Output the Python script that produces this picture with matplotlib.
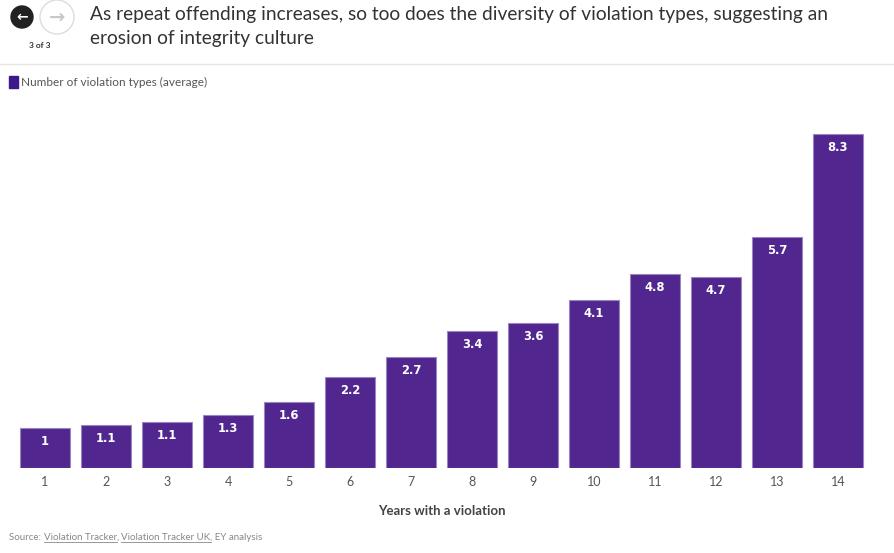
import numpy as np
import matplotlib
matplotlib.use("Agg")
import matplotlib.pyplot as plt
from matplotlib.patches import Ellipse, Rectangle

plt.rcParams["font.family"] = ["Lato", "DejaVu Sans"]

years = list(range(1, 15))
avg_types = [1.0, 1.07, 1.14, 1.32, 1.64, 2.26, 2.76, 3.40, 3.60, 4.17, 4.82, 4.75, 5.74, 8.3]
bar_labels = ["1", "1.1", "1.1", "1.3", "1.6", "2.2", "2.7", "3.4", "3.6", "4.1", "4.8", "4.7", "5.7", "8.3"]

title = ("As repeat offending increases, so too does the diversity of violation types, suggesting an\n"
         "erosion of integrity culture")
series_name = "Number of violation types (average)"
x_title = "Years with a violation"

W, H = 894, 553
fig = plt.figure(figsize=(W / 100, H / 100), dpi=100)


def fx(px):
    return px / W


def fy(py):
    return 1 - py / H


# axes in pixel coordinates: left 14.5, right 868.5, baseline 468, top 106
ax = fig.add_axes([fx(14.5), fy(468), 854 / W, 362 / H])
ax.bar(years, avg_types, width=0.82, color="#51268f", edgecolor="#9b86c4", linewidth=0.8)
for x, v, lab in zip(years, avg_types, bar_labels):
    ax.annotate(lab, (x, v), xytext=(0, -5), textcoords="offset points",
                ha="center", va="top", color="white", fontsize=8.3, fontweight="bold",
                family=["DejaVu Sans"])
ax.set_xlim(0.5, 14.5)
ax.set_ylim(0, 362 / 40.24)
ax.set_xticks(years)
ax.tick_params(axis="x", length=0, pad=6, labelsize=9, labelcolor="#555555")
ax.set_yticks([])
for s in ax.spines.values():
    s.set_visible(False)
ax.set_xlabel(x_title, fontsize=9.5, fontweight="bold", color="#444444", labelpad=12)

# header
fig.text(fx(90), fy(6), title, ha="left", va="top", fontsize=13.8, color="#333333",
         linespacing=1.5)
fig.add_artist(Ellipse((fx(22), fy(17)), 22 / W, 22 / H, transform=fig.transFigure,
                       color="#222222"))
fig.text(fx(22), fy(17), "\u2190", ha="center", va="center", fontsize=10,
         color="white", fontweight="bold", family="DejaVu Sans")
fig.add_artist(Ellipse((fx(57), fy(17)), 34 / W, 34 / H, transform=fig.transFigure,
                       facecolor="white", edgecolor="#dddddd", lw=1))
fig.text(fx(57), fy(17), "\u2192", ha="center", va="center", fontsize=14,
         color="#c8c8c8", fontweight="bold", family="DejaVu Sans")
fig.text(fx(40), fy(45), "3 of 3", ha="center", va="center", fontsize=6,
         fontweight="bold", color="#333333")
fig.add_artist(plt.Line2D([0, 1], [fy(64), fy(64)], transform=fig.transFigure,
                          color="#e6e6e6", lw=1))

# legend
fig.add_artist(Rectangle((fx(9), fy(88)), 9 / W, 12 / H, transform=fig.transFigure,
                         color="#3c1a8a"))
fig.text(fx(21), fy(82), series_name, ha="left", va="center", fontsize=8.5,
         color="#555555")

# source line with underlined links
pieces = [("Source: ", False), ("Violation Tracker", True), (", ", False),
          ("Violation Tracker UK", True), (", EY analysis", False)]
fig.canvas.draw()
r = fig.canvas.get_renderer()
xpos = 9
for txt, under in pieces:
    t = fig.text(fx(xpos), fy(538), txt, ha="left", va="center", fontsize=7,
                 color="#888888")
    bb = t.get_window_extent(renderer=r)
    if under:
        fig.add_artist(plt.Line2D([bb.x0 / W, bb.x1 / W], [bb.y0 / H + 0.001] * 2,
                                  transform=fig.transFigure, color="#888888", lw=0.6))
    xpos += bb.width

fig.savefig("out.png", dpi=100)
